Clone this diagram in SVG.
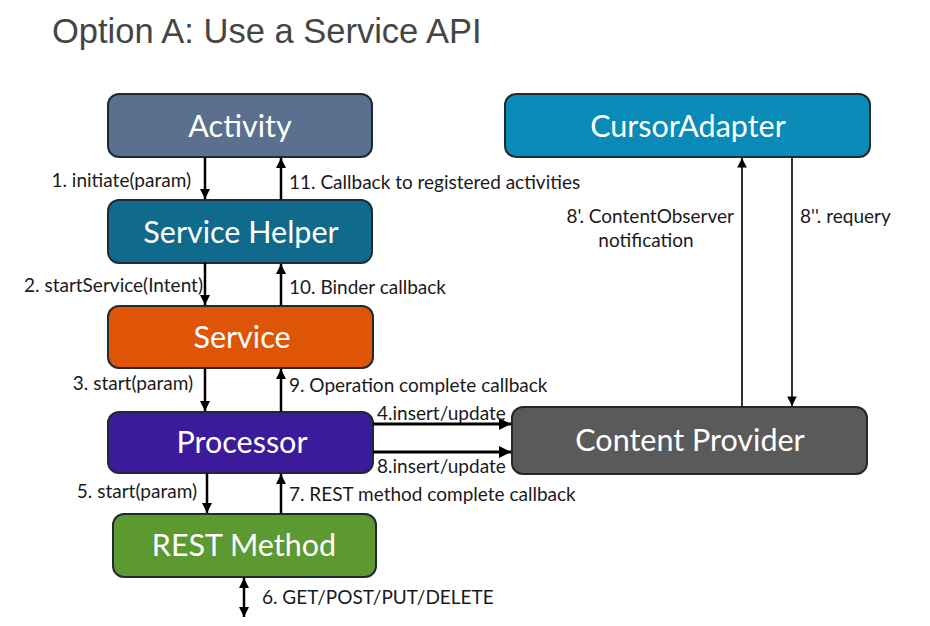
<svg xmlns="http://www.w3.org/2000/svg" width="930" height="626" viewBox="0 0 930 626">
<style>
.box{stroke:#1f2a33;stroke-width:2}
.nt{font-family:Lato,"Open Sans","Liberation Sans",sans-serif;font-size:30.5px;fill:#ffffff;text-anchor:middle}
.lb{font-family:Lato,"Open Sans","Liberation Sans",sans-serif;font-size:19px;fill:#1a1a1a}
.r{text-anchor:end}
.c{text-anchor:middle}
.a{stroke:#000;stroke-width:2.5;fill:none;marker-end:url(#ah)}
.t{stroke:#000;stroke-width:3;fill:none;marker-end:url(#ah)}
.n{stroke:#000;stroke-width:1.6;fill:none;marker-end:url(#ah2)}
</style>
<defs>
<marker id="ah" viewBox="0 0 10 10" refX="10" refY="5" markerWidth="4" markerHeight="4" orient="auto-start-reverse" markerUnits="strokeWidth"><path d="M0,0 L10,5 L0,10 Z" fill="#000"/></marker>
<marker id="ah2" viewBox="0 0 10 10" refX="10" refY="5" markerWidth="6" markerHeight="6" orient="auto-start-reverse" markerUnits="strokeWidth"><path d="M0,0 L10,5 L0,10 Z" fill="#000"/></marker>
</defs>
<rect width="930" height="626" fill="#ffffff"/>
<text x="52" y="43" font-family="'Liberation Sans',Arial,sans-serif" font-size="34.5" fill="#454545">Option A: Use a Service API</text>

<g id="activity"><rect class="box" x="108" y="94" width="264" height="63" rx="11" fill="#5b6f8e"/><text class="nt" x="240" y="137">Activity</text></g>
<g id="service-helper"><rect class="box" x="108" y="200" width="264" height="63" rx="11" fill="#0f6a8b"/><text class="nt" x="241" y="243">Service Helper</text></g>
<g id="service"><rect class="box" x="108" y="306" width="265" height="62" rx="11" fill="#de5508"/><text class="nt" x="242" y="348">Service</text></g>
<g id="processor"><rect class="box" x="108" y="412" width="265" height="61" rx="11" fill="#3b1b9b"/><text class="nt" x="242" y="453">Processor</text></g>
<g id="rest-method"><rect class="box" x="113" y="514" width="263" height="63" rx="11" fill="#5c9a31"/><text class="nt" x="244" y="556">REST Method</text></g>
<g id="cursor-adapter"><rect class="box" x="505" y="94" width="365" height="63" rx="11" fill="#0a8ab6"/><text class="nt" x="688" y="137">CursorAdapter</text></g>
<g id="content-provider"><rect class="box" x="512" y="407" width="355" height="67" rx="11" fill="#5a5a5a"/><text class="nt" x="690" y="451">Content Provider</text></g>

<g id="connectors">
<line class="a" x1="205" y1="157" x2="205" y2="199"/>
<line class="a" x1="281" y1="200" x2="281" y2="158"/>
<line class="a" x1="205" y1="263" x2="205" y2="305"/>
<line class="a" x1="281" y1="306" x2="281" y2="264"/>
<line class="a" x1="205" y1="368" x2="205" y2="411"/>
<line class="a" x1="281" y1="412" x2="281" y2="369"/>
<line class="a" x1="207" y1="473" x2="207" y2="513"/>
<line class="a" x1="281" y1="514" x2="281" y2="474"/>
<line class="a" x1="244" y1="617" x2="244" y2="578" style="marker-start:url(#ah)"/>
<line class="t" x1="373" y1="424" x2="511" y2="424"/>
<line class="t" x1="373" y1="452" x2="511" y2="452"/>
<line class="n" x1="742" y1="407" x2="742" y2="158"/>
<line class="n" x1="792" y1="157" x2="792" y2="406"/>
</g>

<g id="labels">
<text class="lb r" x="191" y="187">1. initiate(param)</text>
<text class="lb" x="289" y="189">11. Callback to registered activities</text>
<text class="lb r" x="203" y="292">2. startService(Intent)</text>
<text class="lb" x="289" y="294">10. Binder callback</text>
<text class="lb r" x="193" y="390">3. start(param)</text>
<text class="lb" x="289" y="392">9. Operation complete callback</text>
<text class="lb" x="377" y="420">4.insert/update</text>
<text class="lb" x="377" y="473">8.insert/update</text>
<text class="lb r" x="197" y="498">5. start(param)</text>
<text class="lb" x="289" y="501">7. REST method complete callback</text>
<text class="lb" x="262" y="604">6. GET/POST/PUT/DELETE</text>
<text class="lb r" x="734" y="223">8'. ContentObserver</text>
<text class="lb c" x="646" y="247">notification</text>
<text class="lb" x="800" y="223">8''. requery</text>
</g>
</svg>
